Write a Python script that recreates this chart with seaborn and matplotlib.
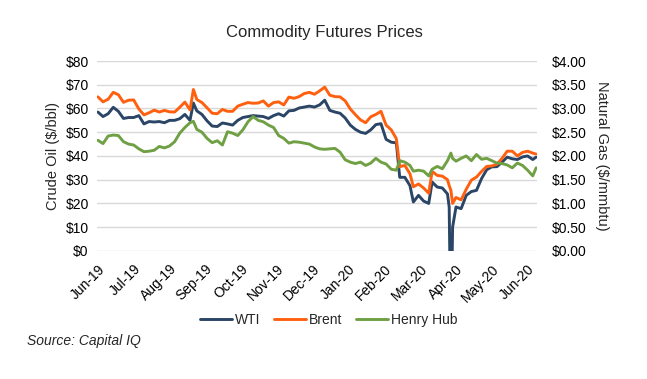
import numpy as np
import pandas as pd
import seaborn as sns
import matplotlib.pyplot as plt
from matplotlib.ticker import StrMethodFormatter

# trading-day index (0 = 24-Jun-2019 ... 257 = 30-Jun-2020)
day_idx = [0, 3, 6, 9, 12, 15, 18, 21, 24, 27, 30, 33, 36, 39, 42, 45, 48, 51, 54, 56,
           58, 61, 64, 67, 70, 73, 76, 79, 82, 85, 88, 91, 94, 97, 100, 103, 106, 109, 112, 115,
           118, 121, 124, 127, 130, 133, 136, 139, 142, 145, 148, 151, 154, 157, 160, 163, 166, 169, 172, 175,
           177, 180, 183, 185, 188, 191, 194, 196, 199, 202, 205, 206, 207, 208, 210, 213, 216, 219, 222, 225,
           228, 231, 234, 237, 240, 243, 246, 249, 252, 255, 257]

wti = [58.5, 56.6, 57.8, 60.5, 58.8, 55.8, 56.2, 56.2, 57.0, 53.5, 54.5, 54.3, 54.5, 54.0, 55.0, 55.0, 55.7, 57.5, 55.0, 62.3,
       59.0, 57.5, 54.8, 52.6, 52.4, 53.9, 53.5, 53.0, 55.0, 56.2, 56.6, 57.0, 56.8, 56.6, 55.8, 57.0, 57.8, 56.8, 59.0, 59.2,
       60.2, 60.6, 61.0, 60.6, 61.5, 63.5, 59.2, 58.5, 58.0, 56.0, 53.0, 51.2, 50.0, 49.5, 51.0, 53.2, 53.6, 47.0, 45.8, 45.5,
       31.0, 31.0, 27.5, 20.6, 23.4, 21.0, 20.0, 29.0, 26.9, 26.5, 24.0, 18.5, -37.6, 10.0, 18.5, 17.8, 23.4, 25.0, 25.5, 30.5,
       34.2, 35.4, 35.5, 37.4, 39.5, 38.8, 38.5, 39.6, 40.0, 38.5, 39.5]

brent = [64.9, 62.8, 63.9, 66.8, 65.8, 62.6, 63.5, 63.6, 59.8, 57.3, 58.2, 59.3, 58.5, 59.2, 58.6, 58.5, 60.5, 62.7, 59.4, 68.0,
         63.8, 62.5, 60.3, 58.0, 57.8, 59.6, 58.8, 58.8, 61.0, 61.8, 62.5, 62.2, 62.3, 63.2, 61.0, 62.5, 62.8, 61.5, 64.8, 64.3,
         65.0, 66.3, 66.8, 66.0, 67.4, 69.0, 65.6, 65.0, 64.9, 63.2, 59.8, 57.4, 55.2, 54.0, 56.5, 57.5, 58.8, 53.0, 51.0, 47.3,
         35.5, 36.0, 32.5, 27.0, 28.2, 26.5, 24.3, 33.5, 31.8, 31.5, 30.0, 27.5, 25.5, 20.0, 22.5, 21.5, 26.0, 29.8, 31.1, 33.5,
         35.6, 35.8, 36.5, 39.0, 42.0, 42.0, 40.0, 41.5, 42.0, 41.2, 40.8]

henry_hub = [2.33, 2.26, 2.42, 2.44, 2.43, 2.30, 2.25, 2.23, 2.15, 2.09, 2.10, 2.12, 2.20, 2.17, 2.21, 2.30, 2.48, 2.60, 2.70, 2.73,
             2.56, 2.50, 2.37, 2.28, 2.32, 2.23, 2.51, 2.48, 2.43, 2.55, 2.72, 2.83, 2.75, 2.72, 2.65, 2.60, 2.43, 2.37, 2.27, 2.30,
             2.29, 2.27, 2.25, 2.19, 2.15, 2.14, 2.15, 2.16, 2.08, 1.92, 1.87, 1.84, 1.87, 1.80, 1.85, 1.95, 1.87, 1.83, 1.72, 1.70,
             1.90, 1.87, 1.80, 1.68, 1.70, 1.68, 1.58, 1.72, 1.78, 1.73, 1.90, 1.98, 2.06, 1.95, 1.89, 1.95, 2.00, 1.90, 2.03, 1.93,
             1.95, 1.90, 1.85, 1.84, 1.81, 1.75, 1.85, 1.80, 1.70, 1.58, 1.75]

tick_pos = [0, 21, 42, 63, 84, 105, 126, 147, 168, 189, 210, 231, 252]
tick_labels = ['Jun-19', 'Jul-19', 'Aug-19', 'Sep-19', 'Oct-19', 'Nov-19', 'Dec-19',
               'Jan-20', 'Feb-20', 'Mar-20', 'Apr-20', 'May-20', 'Jun-20']

df = pd.DataFrame({'day': day_idx, 'WTI': wti, 'Brent': brent, 'Henry Hub': henry_hub})

sns.set_style('white')
plt.rcParams['font.family'] = ['Liberation Sans', 'DejaVu Sans']

fig = plt.figure(figsize=(6.47, 3.79), dpi=100)
ax = fig.add_axes([0.150, 0.338, 0.680, 0.501])
ax2 = ax.twinx()

sns.lineplot(data=df, x='day', y='WTI', ax=ax, color='#2A4565', lw=2.1, label='WTI', legend=False)
sns.lineplot(data=df, x='day', y='Brent', ax=ax, color='#FF6010', lw=2.1, label='Brent', legend=False)
sns.lineplot(data=df, x='day', y='Henry Hub', ax=ax2, color='#70A044', lw=2.1, label='Henry Hub', legend=False)

ax.set_xlim(-0.5, 257.5)
ax.set_ylim(0, 80)
ax2.set_ylim(0, 4)
ax.set_yticks(np.arange(0, 81, 10))
ax2.set_yticks(np.arange(0, 4.01, 0.5))
ax.yaxis.set_major_formatter(StrMethodFormatter('${x:.0f}'))
ax2.yaxis.set_major_formatter(StrMethodFormatter('${x:.2f}'))

ax.set_xticks(tick_pos)
ax.set_xticklabels(tick_labels, rotation=45, ha='right', rotation_mode='anchor')
ax.grid(axis='y', color='#D9D9D9', lw=1)
ax.set_axisbelow(True)
for a in (ax, ax2):
    for s in a.spines.values():
        s.set_visible(False)
    a.tick_params(length=0, labelsize=10, colors='black')
ax.tick_params(axis='y', pad=6)
ax.tick_params(axis='x', pad=8)
ax2.tick_params(axis='y', pad=11)

ax.set_xlabel('')
ax.set_ylabel('Crude Oil ($/bbl)', fontsize=10.5, labelpad=4)
ax2.set_ylabel('Natural Gas ($/mmbtu)', fontsize=10.5, rotation=270, labelpad=16)

fig.suptitle('Commodity Futures Prices', x=0.502, y=0.935, fontsize=12)

h1, l1 = ax.get_legend_handles_labels()
h2, l2 = ax2.get_legend_handles_labels()
fig.legend(h1 + h2, l1 + l2, loc='center', bbox_to_anchor=(0.508, 0.155), ncol=3,
           frameon=False, fontsize=10, handlelength=2.3, handletextpad=0.2, columnspacing=1.0)

fig.text(0.042, 0.09, 'Source: Capital IQ', fontsize=10, style='italic')

plt.savefig('out.png', dpi=100)
